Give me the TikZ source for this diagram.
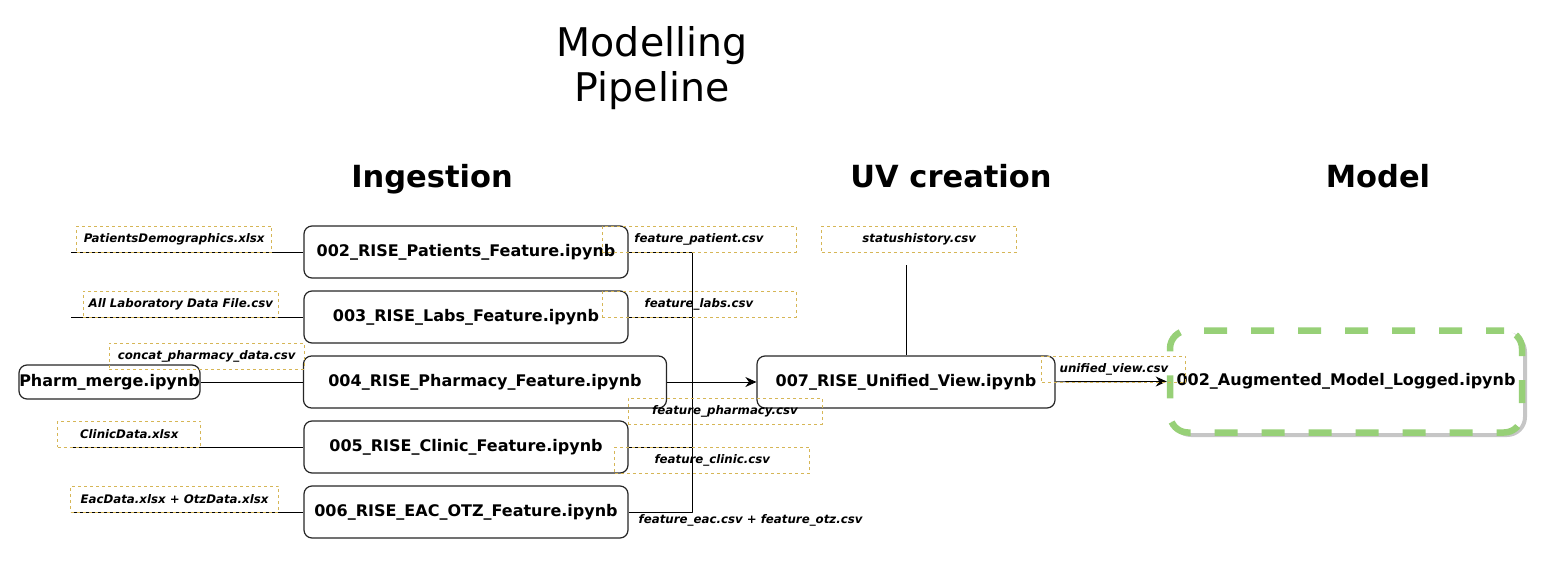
\documentclass[tikz,border=0pt]{standalone}
\usepackage{fontspec}
\setmainfont{DejaVu Sans}
\usetikzlibrary{arrows.meta,positioning}
\definecolor{gold}{HTML}{D6B656}
\definecolor{leaf}{HTML}{97D077}
\begin{document}
\begin{tikzpicture}[x=1pt, y=-1pt, line join=round, >={Stealth[length=11pt,width=10pt]},
	nb/.style={draw=black!85, line width=1.2pt, rounded corners=8pt, fill=white, inner sep=0pt,
		font=\fontsize{16}{19}\selectfont\bfseries},
	lbl/.style={draw=gold, dash pattern=on 3pt off 3pt, line width=0.9pt, inner sep=0pt,
		minimum height=26pt, font=\fontsize{11.8}{14}\selectfont\bfseries\itshape},
	head/.style={anchor=base, font=\fontsize{30.5}{36}\selectfont\bfseries}]
	\useasboundingbox (0,0) rectangle (1562,575);
	% titles
	\node[anchor=base, font=\fontsize{39.5}{46}\selectfont] (title1) at (652,57) {Modelling};
	\node[anchor=base, font=\fontsize{39.5}{46}\selectfont] (title2) at (652,102) {Pipeline};
	\node[head] (ingest) at (432,187) {Ingestion};
	\node[head] (uv) at (951,187) {UV creation};
	\node[head] (mdl) at (1378,187) {Model};
	% notebooks
	\foreach \n/\t/\y in {002/Patients/252, 003/Labs/317, 005/Clinic/447, 006/EAC\_OTZ/512}
		{\node[nb, minimum width=324pt, minimum height=52pt] (b\n) at (466,\y) {\n\_RISE\_\t\_Feature.ipynb};}
	\node[nb, minimum width=363pt, minimum height=52pt] (b004) at (485,382) {004\_RISE\_Pharmacy\_Feature.ipynb};
	\node[nb, minimum width=181pt, minimum height=34pt] (pharm) at (109.5,382) {Pharm\_merge.ipynb};
	\node[nb, minimum width=298pt, minimum height=52pt] (b007) at (906,382) {007\_RISE\_Unified\_View.ipynb};
	\draw[gray!45, line width=4pt, rounded corners=18pt] (1173,334) rectangle (1525,435);
	\node[draw=leaf, line width=6.5pt, dash pattern=on 23pt off 24pt, dash phase=5pt, rounded corners=18pt, fill=white,
		minimum width=352pt, minimum height=102pt, inner sep=0pt, font=\fontsize{16}{19}\selectfont\bfseries]
		(model) at (1346,381.5) {002\_Augmented\_Model\_Logged.ipynb};
	\path
	(71,252) coordinate (in002)
	(71,317) coordinate (in003)
	(71,447) coordinate (in005)
	(71,512) coordinate (in006)
	(692.5,382) coordinate (bus)
	(906,265) coordinate (st)
	;
	% connectors
	\foreach \n in {002,003,005,006}
		{\draw[line width=0.9pt] (in\n) -- (b\n);
		\draw[line width=0.9pt] (b\n.east) -| (bus);}
	\draw[line width=0.9pt] (pharm) -- (b004);
	\draw[line width=0.9pt, ->] (b004) -- (b007);
	\draw[line width=0.9pt] (st) -- (b007);
	\draw[line width=0.9pt, ->] (b007) -- (model.west);
	% file labels
	\node[lbl, minimum width=195pt] (patients) at (174.2,239.2) {PatientsDemographics.xlsx};
	\node[lbl, minimum width=195pt] (labs) at (180.8,304.2) {All Laboratory Data File.csv};
	\node[lbl, minimum width=195pt] (concat) at (206.7,356) {concat\_pharmacy\_data.csv};
	\node[lbl, minimum width=143pt] (clinic) at (129.2,434) {ClinicData.xlsx};
	\node[lbl, minimum width=208pt] (eacotz) at (174.5,499.2) {EacData.xlsx + OtzData.xlsx};
	\node[lbl, minimum width=194pt] (fpatient) at (699,239.2) {feature\_patient.csv};
	\node[lbl, minimum width=194pt] (flabs) at (699,304.2) {feature\_labs.csv};
	\node[lbl, minimum width=194pt] (fpharm) at (725,411) {feature\_pharmacy.csv};
	\node[lbl, minimum width=195pt] (fclinic) at (712.3,460.3) {feature\_clinic.csv};
	\node[lbl, draw=none] (feacotz) at (750.6,520) {feature\_eac.csv + feature\_otz.csv};
	\node[lbl, minimum width=195pt] (status) at (919.2,239.2) {statushistory.csv};
	\node[lbl, minimum width=144pt] (unified) at (1113.9,369) {unified\_view.csv};
\end{tikzpicture}
\end{document}
